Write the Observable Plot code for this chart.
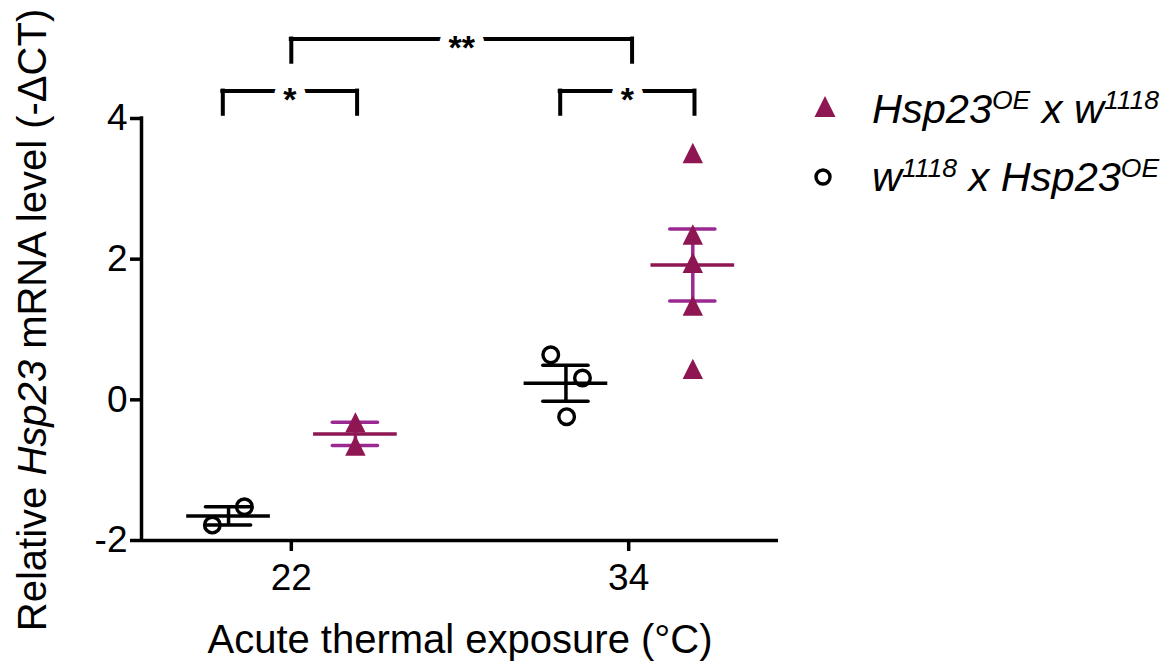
<!DOCTYPE html>
<html><head><meta charset="utf-8">
<script src="https://cdn.jsdelivr.net/npm/d3@7"></script>
<script src="https://cdn.jsdelivr.net/npm/@observablehq/plot@0.6"></script>
<style>
body{margin:0;background:#fff;}
#chart{width:1173px;height:663px;}
</style></head><body><div id="chart"></div>
<script>
// ---- data ----
const temps = ["22", "34"];
const oe22 = [-0.32, -0.65];
const oe34 = [3.51, 2.35, 1.95, 1.34, 0.44];
const w22 = [-1.78, -1.52];
const w34 = [0.64, 0.31, -0.24];
const w22Jitter = [-0.048, 0.047];
const w34Jitter = [-0.045, 0.049, 0.002];
const yTicks = [-2, 0, 2, 4];
const sigLabels = ["*", "*", "**"];
const sigFrom = [0, 1, 0];      // temperature index of left end
const sigTo = [0, 1, 1];        // temperature index of right end
const sigLevel = [4.39, 4.39, 5.13];

// ---- layout / style ----
const FONT = '"Liberation Sans", Arial, Helvetica, sans-serif';
const OE_COLOR = "#8e1652";
const OE_ERR = "#9a2a92";
const offW = -0.186, offOE = 0.19;
const xDomain = [-0.444, 1.444];
const meanHalf = 0.124, capHalf = 0.067;

const tri = {draw(ctx, size) {
  const h = Math.sqrt(size / Math.PI);
  ctx.moveTo(0, -h); ctx.lineTo(h, h); ctx.lineTo(-h, h); ctx.closePath();
}};

const groups = [
  {s: "w", x: 0 + offW, v: w22, jit: w22Jitter},
  {s: "oe", x: 0 + offOE, v: oe22},
  {s: "w", x: 1 + offW, v: w34, jit: w34Jitter},
  {s: "oe", x: 1 + offOE, v: oe34}
].map(g => {
  const m = d3.mean(g.v), se = d3.deviation(g.v) / Math.sqrt(g.v.length);
  return {...g, mean: m, lo: m - se, hi: m + se,
    color: g.s === "oe" ? OE_COLOR : "black", err: g.s === "oe" ? OE_ERR : "black"};
});
const wPts = groups.filter(g => g.s === "w").flatMap(g => g.v.map((v, i) => ({x: g.x + g.jit[i], y: v})));
const oePts = groups.filter(g => g.s === "oe").flatMap(g => g.v.map(v => ({x: g.x, y: v})));
const caps = groups.flatMap(g => [{...g, y: g.lo}, {...g, y: g.hi}]);

const sig = sigLabels.map((t, i) => {
  const a = sigFrom[i] === sigTo[i] ? sigFrom[i] + offW - 0.017 : sigFrom[i];
  const b = sigFrom[i] === sigTo[i] ? sigTo[i] + offOE + 0.005 : sigTo[i] + 0.01;
  return {t, a, b, y: sigLevel[i], mid: (a + b) / 2};
});
const drop = 0.33;

const plot = Plot.plot({
  width: 1173, height: 663,
  marginLeft: 141, marginRight: 395, marginTop: 118, marginBottom: 123,
  x: {type: "linear", domain: xDomain, axis: null},
  y: {domain: [-2, 4], axis: null},
  style: {fontFamily: FONT, color: "black", background: "white", overflow: "visible"},
  marks: [
    Plot.ruleY([-2], {x1: xDomain[0], x2: xDomain[1], strokeWidth: 3.5}),
    Plot.ruleX([xDomain[0]], {y1: -2, y2: 4, strokeWidth: 3.5, strokeLinecap: "square"}),
    Plot.axisY({ticks: yTicks, tickFormat: d => String(d), tickSize: 11, tickPadding: 3, fontSize: 37, strokeWidth: 3.5, label: null}),
    Plot.axisX({ticks: [0, 1], tickFormat: i => temps[i], tickSize: 11, tickPadding: 12, fontSize: 37, strokeWidth: 3.5, label: null}),
    Plot.text(["Acute thermal exposure (°C)"], {frameAnchor: "bottom", lineAnchor: "middle", dy: 100, fontSize: 40}),
    // error bars
    Plot.ruleX(groups, {x: "x", y1: "lo", y2: "hi", stroke: "err", strokeWidth: 3.5}),
    Plot.ruleY(caps, {y: "y", x1: d => d.x - capHalf, x2: d => d.x + capHalf, stroke: "err", strokeWidth: 3.5, strokeLinecap: "round"}),
    // points
    Plot.dot(wPts, {x: "x", y: "y", r: 7.8, stroke: "black", strokeWidth: 3.4, fill: "none"}),
    Plot.dot(oePts, {x: "x", y: "y", r: 10.2, symbol: tri, fill: OE_COLOR, stroke: "none"}),
    // means
    Plot.ruleY(groups, {y: "mean", x1: d => d.x - meanHalf, x2: d => d.x + meanHalf, stroke: "color", strokeWidth: 3.5}),
    // significance brackets
    Plot.ruleY(sig, {y: "y", x1: "a", x2: "b", strokeWidth: 4, strokeLinecap: "square"}),
    Plot.ruleX(sig, {x: "a", y1: d => d.y - drop, y2: "y", strokeWidth: 4, strokeLinecap: "square"}),
    Plot.ruleX(sig, {x: "b", y1: d => d.y - drop, y2: "y", strokeWidth: 4, strokeLinecap: "square"}),
    Plot.text(sig, {x: "mid", y: "y", text: "t", fontSize: 34, fontWeight: "bold", dy: 9,
      fill: "black", stroke: "white", strokeWidth: 18, paintOrder: "stroke"})
  ]
});
document.getElementById("chart").appendChild(plot);

const svg = d3.select(plot);
// y-axis title
const yl = svg.append("text")
  .attr("transform", "translate(32,320) rotate(-90)")
  .attr("text-anchor", "middle").attr("dominant-baseline", "central")
  .attr("font-size", 40).attr("fill", "black").attr("font-family", FONT);
yl.append("tspan").text("Relative ");
yl.append("tspan").attr("font-style", "italic").text("Hsp23");
yl.append("tspan").text(" mRNA level (-ΔCT)");

// legend
const leg = svg.append("g").attr("font-family", FONT).attr("fill", "black").attr("text-anchor", "start");
leg.append("path").attr("transform", "translate(825,106.5)")
  .attr("d", d3.symbol(tri, Math.PI * 10.5 * 10.5)()).attr("fill", OE_COLOR);
leg.append("circle").attr("cx", 823).attr("cy", 177).attr("r", 7)
  .attr("fill", "none").attr("stroke", "black").attr("stroke-width", 3.4);
function legText(y, parts) {
  const t = leg.append("text").attr("x", 872).attr("y", y).attr("font-size", 41.5)
    .attr("font-style", "italic").attr("text-anchor", "start");
  let up = false;
  parts.forEach(([s, sup]) => {
    const ts = t.append("tspan").text(s);
    if (sup) { ts.attr("font-size", 26.5).attr("dy", -14); up = true; }
    else if (up) { ts.attr("dy", 14); up = false; }
  });
}
legText(123, [["Hsp23"], ["OE", 1], [" x w"], ["1118", 1]]);
legText(191, [["w"], ["1118", 1], [" x Hsp23"], ["OE", 1]]);
</script></body></html>
